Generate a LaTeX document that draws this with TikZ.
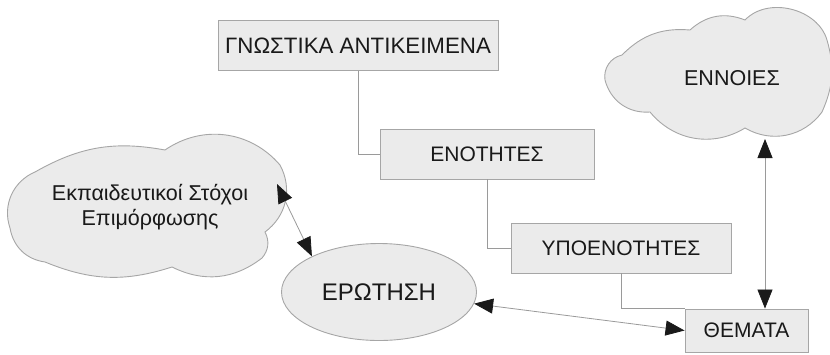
\documentclass[tikz,border=0pt]{standalone}
\usepackage{fontspec}
\setmainfont{Liberation Sans}
\usetikzlibrary{arrows.meta,shapes.geometric}
\definecolor{boxfill}{HTML}{EBEBEB}
\definecolor{boxline}{HTML}{A6A6A6}
\definecolor{conn}{HTML}{9A9A9A}
\definecolor{tipc}{HTML}{1A1A1A}
\begin{document}
\begin{tikzpicture}[x=1pt,y=-1pt,
  box/.style={draw=boxline, fill=boxfill, line width=0.9pt, inner sep=0pt, text=black!90, font=\fontsize{21}{25}\selectfont},
  link/.style={draw=conn, line width=0.8pt},
  dbl/.style={link, {Triangle[length=19pt,width=15pt,color=tipc]}-{Triangle[length=19pt,width=15pt,color=tipc]}},
  cloudline/.style={draw=boxline, fill=boxfill, line width=0.9pt},
  cloudtext/.style={text=black!90, align=center, font=\fontsize{21.5}{25}\selectfont}]
\useasboundingbox (0,0) rectangle (830,354);
% clouds
\path[cloudline] (35,172) to[bend left=20] (165,150) to[bend left=42] (280,165)
  to[bend left=41] (265,232) to[bend left=34] (262,258) to[bend left=32] (172,267)
  to[bend left=20] (45,262) to[bend left=36] (10,228) to[bend left=43] (35,172) -- cycle;
\path[cloudline] (622,55) to[bend left=25] (690,30) to[bend left=32] (745,20)
  to[bend left=60] (827,40) to[bend left=20] (822,112) to[bend left=42] (745,128)
  to[bend left=41] (650,112) to[bend left=40] (605,80) to[bend left=43] (622,55) -- cycle;
\node[cloudtext] (stochoi) at (150,207) {Εκπαιδευτικοί Στόχοι\\Επιμόρφωσης};
\node[cloudtext] (ennoies) at (732,78) {ΕΝΝΟΙΕΣ};
\coordinate (stochoiR) at (277,184);
\coordinate (ennoiesB) at (765,139);
% boxes
\node[box, minimum width=280pt, minimum height=50pt, font=\fontsize{22.3}{26}\selectfont] (gnostika) at (358,45.5) {ΓΝΩΣΤΙΚΑ ΑΝΤΙΚΕΙΜΕΝΑ};
\node[box, minimum width=214pt, minimum height=50pt] (enotites) at (487,154) {ΕΝΟΤΗΤΕΣ};
\node[box, minimum width=220pt, minimum height=50pt] (ypo) at (621,248) {ΥΠΟΕΝΟΤΗΤΕΣ};
\node[box, minimum width=123pt, minimum height=43pt] (thema) at (746.5,330.5) {ΘΕΜΑΤΑ};
\node[ellipse, draw=boxline, fill=boxfill, line width=0.9pt, inner sep=0pt, text=black!90,
  minimum width=195pt, minimum height=97pt, font=\fontsize{24}{28}\selectfont] (erotisi) at (379,292) {ΕΡΩΤΗΣΗ};
% connectors
\draw[link] (gnostika.south) |- (enotites.west);
\draw[link] (enotites.south) |- (ypo.west);
\draw[link] (ypo.south) |- (thema.north west);
\draw[dbl] (stochoiR) -- (erotisi.152);
\draw[dbl] (erotisi.-7) -- (thema.west);
\draw[dbl] (ennoiesB) -- (ennoiesB |- thema.north);
\end{tikzpicture}
\end{document}
